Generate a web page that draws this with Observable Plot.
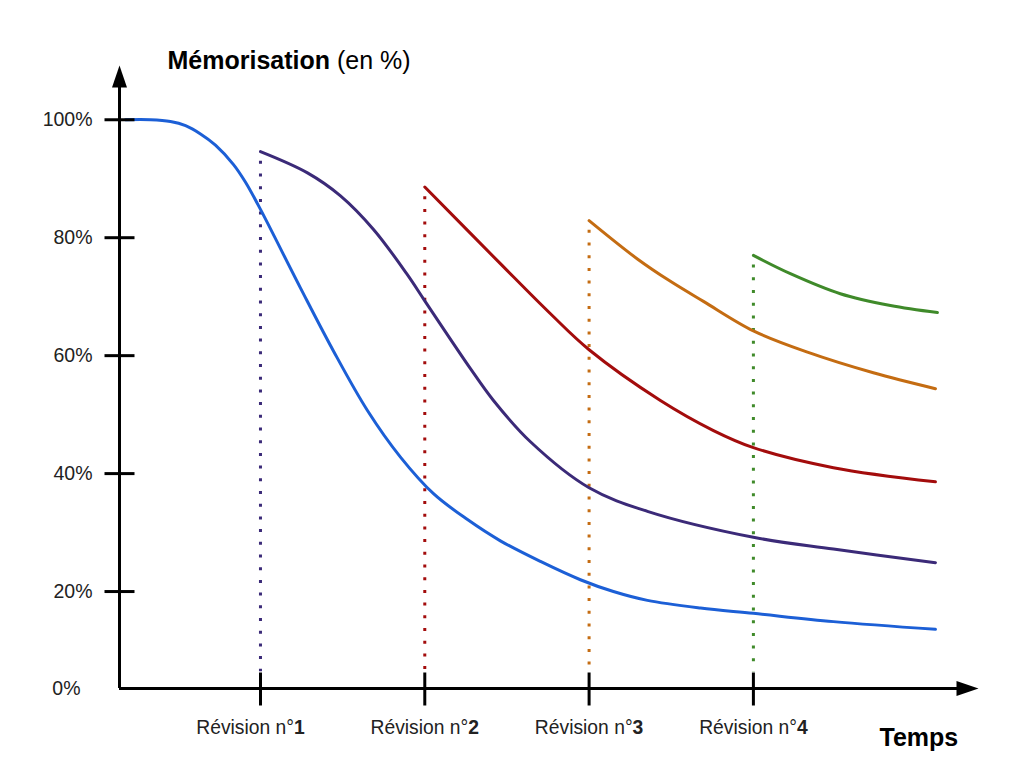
<!DOCTYPE html>
<html lang="fr">
<head>
<meta charset="utf-8">
<script src="https://cdn.jsdelivr.net/npm/d3@7"></script>
<script src="https://cdn.jsdelivr.net/npm/@observablehq/plot@0.6"></script>
<style>
  html, body { margin: 0; padding: 0; background: #fff; }
  #chart svg { display: block; font-family: "Liberation Sans", Arial, sans-serif; }
</style>
</head>
<body>
<div id="chart"></div>
<script>
// Time axis: revision n°k sits at t = k
const revisions = [1, 2, 3, 4];
const revisionColors = ["#3b2a78", "#a30c0c", "#c46c12", "#3f8a2a"];

// Y tick values (percent); the "0%" label sits on the time axis
const yTicks = [20, 40, 60, 80, 100];
const yLabels = [20, 40, 60, 80, 100];

// Axis extents (time units / percent)
const tOrigin = 0.142;
const tAxisEnd = 5.37;
const pBase = 3.56;      // level of the time axis
const pAxisEnd = 109.2;  // tip of the vertical arrow
const pDropEnd = 6.4;    // lower end of the dotted revision lines

// Forgetting curve before any revision
const blueT = [0.178, 0.331, 0.452, 0.544, 0.635, 0.726, 0.836, 0.909, 1.0, 1.243, 1.444, 1.651, 1.852, 2.053, 2.26, 2.46, 2.704, 2.947, 3.148, 3.355, 3.678, 4.0, 4.487, 5.108];
const blueV = [100, 100, 99.7, 99.0, 97.6, 95.7, 92.4, 89.4, 84.8, 71.5, 60.8, 50.7, 42.8, 36.6, 32.2, 28.6, 25.1, 22.0, 20.0, 18.5, 17.2, 16.3, 14.9, 13.6];

// After revision n°1
const purpleT = [1.0, 1.286, 1.487, 1.688, 1.895, 2.0, 2.278, 2.418, 2.643, 3.0, 3.355, 4.0, 4.487, 5.108];
const purpleV = [94.6, 91.0, 87.1, 81.4, 73.7, 69.3, 57.8, 52.4, 45.4, 37.6, 33.6, 29.2, 27.2, 24.9];

// After revision n°2
const redT = [2.0, 2.46, 2.765, 3.0, 3.434, 3.757, 4.0, 4.487, 5.108];
const redV = [88.6, 75.6, 67.1, 61.0, 52.4, 47.3, 44.4, 41.0, 38.6];

// After revision n°3
const orangeT = [3.0, 3.294, 3.495, 3.696, 4.0, 4.329, 4.73, 5.108];
const orangeV = [82.9, 76.4, 72.6, 69.2, 64.2, 60.6, 57.1, 54.4];

// After revision n°4
const greenT = [4.0, 4.225, 4.529, 4.834, 5.12];
const greenV = [77.0, 73.9, 70.5, 68.5, 67.3];

const series = [
  {name: "initial", color: "#1c5fd6", t: blueT, v: blueV},
  {name: "rev1", color: revisionColors[0], t: purpleT, v: purpleV},
  {name: "rev2", color: revisionColors[1], t: redT, v: redV},
  {name: "rev3", color: revisionColors[2], t: orangeT, v: orangeV},
  {name: "rev4", color: revisionColors[3], t: greenT, v: greenV}
];
const points = series.flatMap(s => s.t.map((t, i) => ({name: s.name, color: s.color, t, v: s.v[i]})));

// Revision markers: dotted drop line from the start of each new curve
const starts = series.slice(1).map((s, i) => ({t: revisions[i], v: s.v[0], color: s.color}));

// Custom symbols: arrowheads with tip at the origin, and axis ticks
const arrowRight = {draw(ctx) { ctx.moveTo(0, 0); ctx.lineTo(-22, -7.5); ctx.lineTo(-22, 7.5); ctx.closePath(); }};
const arrowUp = {draw(ctx) { ctx.moveTo(0, 0); ctx.lineTo(-7.5, 22); ctx.lineTo(7.5, 22); ctx.closePath(); }};
const hTick = {draw(ctx) { ctx.moveTo(-15, 0); ctx.lineTo(15, 0); }};
const vTick = {draw(ctx) { ctx.moveTo(0, -16); ctx.lineTo(0, 17); }};

const labelStyle = {y: pBase, text: d => "Révision n°" + d, dy: 39, fontSize: 19.3, fill: "#222"};

const chart = Plot.plot({
  width: 1024,
  height: 777,
  margin: 0,
  x: {domain: [tOrigin, tAxisEnd], range: [119, 978], axis: null},
  y: {domain: [pBase, pAxisEnd], range: [688, 65], axis: null},
  marks: [
    // dotted revision lines
    Plot.ruleX(starts, {x: "t", y1: "v", y2: pDropEnd, stroke: "color", strokeWidth: 3, strokeDasharray: "3,9.7", strokeDashoffset: -9.7}),
    // curves
    Plot.line(points, {x: "t", y: "v", z: "name", stroke: "color", strokeWidth: 3, curve: "catmull-rom"}),
    // axes
    Plot.ruleY([pBase], {x1: tOrigin, x2: tAxisEnd - 0.1, stroke: "#000", strokeWidth: 3}),
    Plot.ruleX([tOrigin], {y1: pBase, y2: pAxisEnd - 3, stroke: "#000", strokeWidth: 3}),
    Plot.dot([tAxisEnd], {x: d => d, y: pBase, symbol: arrowRight, fill: "#000", stroke: null}),
    Plot.dot([pAxisEnd], {x: tOrigin, y: d => d, symbol: arrowUp, fill: "#000", stroke: null}),
    Plot.dot(yTicks, {x: tOrigin, y: d => d, symbol: hTick, stroke: "#000", strokeWidth: 3, fill: "none"}),
    Plot.dot(revisions, {x: d => d, y: pBase, symbol: vTick, stroke: "#000", strokeWidth: 3, fill: "none"}),
    // labels
    Plot.text(yLabels, {x: tOrigin, y: d => d, text: d => d + "%", textAnchor: "end", dx: -27, fontSize: 19.5, fill: "#222"}),
    Plot.text([pBase], {x: tOrigin, y: d => d, text: ["0%"], textAnchor: "end", dx: -39, fontSize: 19.5, fill: "#222"}),
    Plot.text(revisions.slice(0, 1), {x: d => d, dx: -10, ...labelStyle}),
    Plot.text(revisions.slice(1), {x: d => d, ...labelStyle}),
    Plot.text(["Mémorisation (en %)"], {frameAnchor: "top-left", dx: 167, dy: 51, textAnchor: "start", fontSize: 25, fill: "#000"}),
    Plot.text(["Temps"], {frameAnchor: "top-left", dx: 879, dy: 728, textAnchor: "start", fontSize: 25, fontWeight: "bold", fill: "#000"})
  ]
});

// Rich text: bold part of the title and bold revision numbers
d3.select(chart).selectAll("text").each(function () {
  const el = d3.select(this);
  const s = this.textContent;
  let m;
  if (s === "Mémorisation (en %)") {
    el.text(null);
    el.append("tspan").attr("font-weight", "bold").text("Mémorisation");
    el.append("tspan").text(" (en %)");
  } else if ((m = s.match(/^(Révision n°)(\d)$/))) {
    el.text(null);
    el.append("tspan").text(m[1]);
    el.append("tspan").attr("font-weight", "bold").text(m[2]);
  }
});

document.getElementById("chart").append(chart);
</script>
</body>
</html>
